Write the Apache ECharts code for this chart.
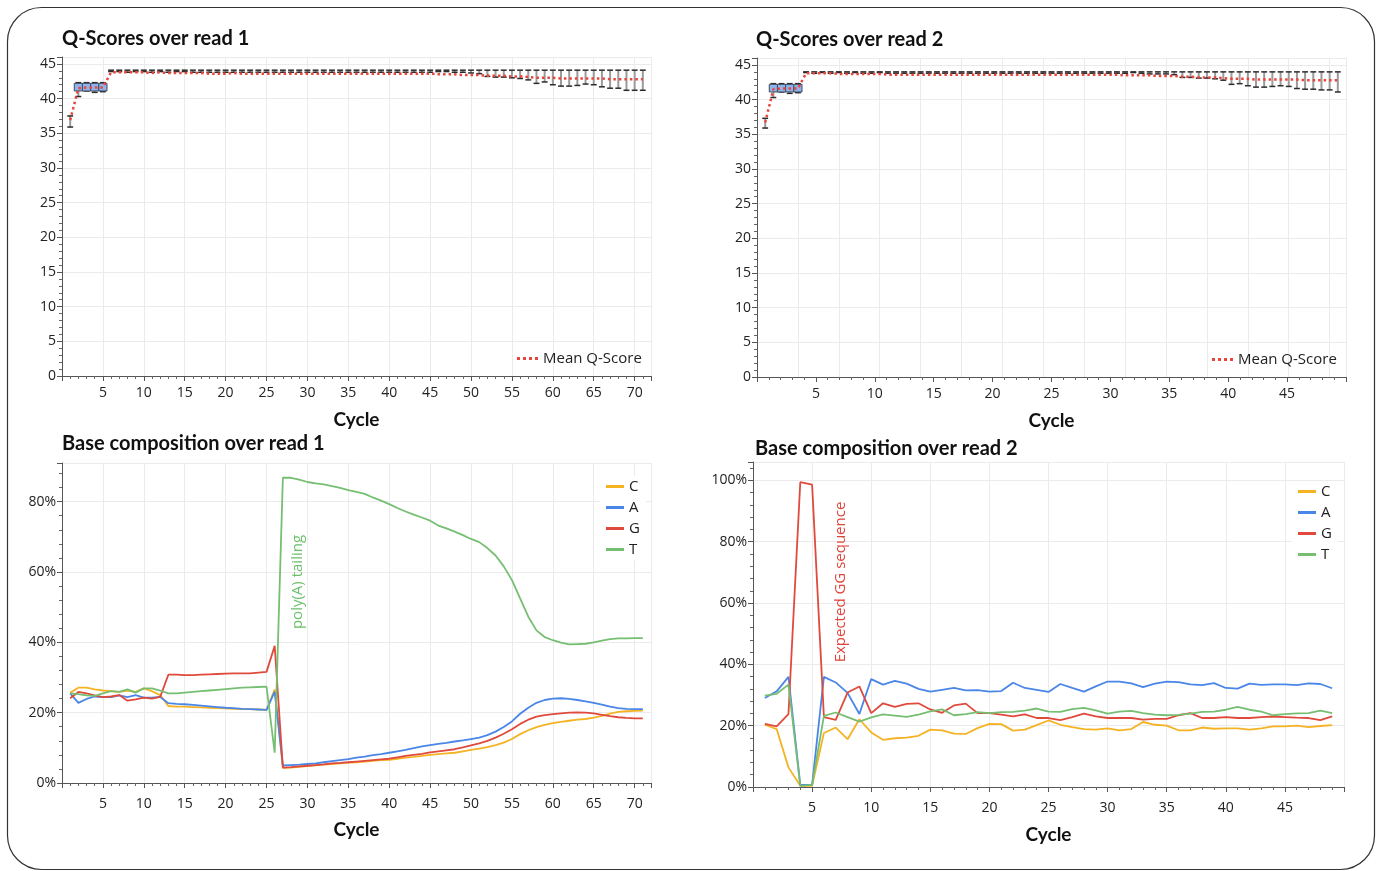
<!DOCTYPE html>
<html><head><meta charset="utf-8">
<script src="https://cdn.jsdelivr.net/npm/echarts@6/dist/echarts.min.js"></script>
<style>html,body{margin:0;padding:0;background:#fff;}#c{width:1383px;height:871px;}</style>
</head><body><div id="c"></div>
<script>
// ---------- DATA ----------
const cycles71 = [1,2,3,4,5,6,7,8,9,10,11,12,13,14,15,16,17,18,19,20,21,22,23,24,25,26,27,28,29,30,31,32,33,34,35,36,37,38,39,40,41,42,43,44,45,46,47,48,49,50,51,52,53,54,55,56,57,58,59,60,61,62,63,64,65,66,67,68,69,70,71];
const cycles49 = [1,2,3,4,5,6,7,8,9,10,11,12,13,14,15,16,17,18,19,20,21,22,23,24,25,26,27,28,29,30,31,32,33,34,35,36,37,38,39,40,41,42,43,44,45,46,47,48,49];

// Q-scores read 1
const q1Mean = [36.9,41.5,41.6,41.6,41.6,43.8,43.8,43.8,43.8,43.8,
43.7,43.8,43.7,43.7,43.7,43.7,43.7,43.6,43.6,43.6,
43.7,43.6,43.6,43.6,43.6,43.6,43.6,43.6,43.6,43.6,
43.6,43.6,43.6,43.6,43.6,43.6,43.6,43.6,43.6,43.6,
43.6,43.6,43.6,43.6,43.6,43.5,43.5,43.5,43.4,43.4,
43.4,43.3,43.3,43.3,43.2,43.2,43.1,43.0,43.0,43.0,
42.9,42.9,42.9,42.9,42.9,42.9,42.8,42.8,42.8,42.8,42.8];
const q1Low = [35.9,40.3,41.1,40.9,41.0,43.9,43.9,43.8,43.9,43.9,
43.8,43.9,43.8,43.9,43.9,43.8,43.8,43.8,43.8,43.8,
43.8,43.8,43.8,43.8,43.8,43.8,43.8,43.8,43.8,43.8,
43.8,43.8,43.8,43.8,43.8,43.8,43.8,43.8,43.8,43.8,
43.8,43.8,43.8,43.8,43.8,43.9,43.9,43.8,43.8,43.7,
43.6,43.2,43.1,43.1,43.0,42.9,42.7,42.2,42.4,42.0,
41.8,41.8,41.9,42.1,42.0,41.7,41.5,41.5,41.2,41.2,41.2];
const q1High = [37.5,42.3,42.3,42.3,42.3,44.1,44.1,44.1,44.1,44.1,
44.1,44.1,44.1,44.1,44.1,44.1,44.1,44.1,44.1,44.1,
44.1,44.1,44.1,44.1,44.1,44.1,44.1,44.1,44.1,44.1,
44.1,44.1,44.1,44.1,44.1,44.1,44.1,44.1,44.1,44.1,
44.1,44.1,44.1,44.1,44.1,44.1,44.1,44.1,44.1,44.1,
44.1,44.1,44.1,44.1,44.1,44.1,44.1,44.1,44.1,44.1,
44.1,44.1,44.1,44.1,44.1,44.1,44.1,44.1,44.1,44.1,44.1];
const box1Cycles = [2,3,4,5];
const box1Low = [41.1,41.1,41.1,41.1];
const box1High = [42.2,42.2,42.2,42.2];

// Q-scores read 2
const q2Mean = [36.7,41.5,41.6,41.6,41.6,43.8,43.8,43.8,43.8,43.7,
43.7,43.7,43.7,43.7,43.7,43.6,43.6,43.6,43.6,43.6,
43.6,43.6,43.6,43.6,43.6,43.6,43.6,43.6,43.6,43.6,
43.6,43.6,43.6,43.6,43.6,43.6,43.6,43.6,43.6,43.6,
43.6,43.6,43.6,43.6,43.5,43.5,43.5,43.5,43.4,43.4,
43.4,43.3,43.3,43.2,43.2,43.2,43.1,43.0,43.0,43.0,
42.9,42.9,42.9,42.9,42.9,42.9,42.8,42.8,42.8,42.8,42.8];
const q2Low = [35.9,40.3,41.1,40.9,41.0,43.9,43.8,43.9,43.8,43.9,
43.8,43.9,43.8,43.8,43.9,43.8,43.8,43.8,43.8,43.8,
43.8,43.8,43.8,43.8,43.8,43.8,43.8,43.8,43.8,43.8,
43.8,43.8,43.8,43.8,43.8,43.8,43.8,43.8,43.8,43.8,
43.8,43.8,43.8,43.8,43.8,43.9,43.8,43.7,43.7,43.7,
43.6,43.2,43.2,43.1,43.1,43.0,42.8,42.2,42.3,42.0,
41.8,41.8,41.9,42.0,41.9,41.6,41.5,41.5,41.4,41.4,41.1];
const q2High = [37.3,42.3,42.3,42.3,42.3,44.0,44.0,44.0,44.0,44.0,
44.0,44.0,44.0,44.0,44.0,44.0,44.0,44.0,44.0,44.0,
44.0,44.0,44.0,44.0,44.0,44.0,44.0,44.0,44.0,44.0,
44.0,44.0,44.0,44.0,44.0,44.0,44.0,44.0,44.0,44.0,
44.0,44.0,44.0,44.0,44.0,44.0,44.0,44.0,44.0,44.0,
44.0,44.0,44.0,44.0,44.0,44.0,44.0,44.0,44.0,44.0,
44.0,44.0,44.0,44.0,44.0,44.0,44.0,44.0,44.0,44.0,44.0];
const box2Cycles = [2,3,4,5];
const box2Low = [41.1,41.1,41.1,41.1];
const box2High = [42.2,42.2,42.2,42.2];

// Base composition read 1 (%)
const r1C = [25.7,27.1,27.1,26.6,26.3,26.1,25.9,26.3,25.9,26.9,
26.1,25.0,21.9,21.7,21.7,21.6,21.5,21.4,21.3,21.2,
21.1,21.0,21.0,20.9,20.8,26.6,4.3,4.4,4.6,4.8,
5.0,5.2,5.4,5.6,5.8,5.9,6.1,6.3,6.5,6.6,
6.9,7.2,7.4,7.7,8.0,8.2,8.4,8.6,9.0,9.4,
9.8,10.2,10.8,11.5,12.5,13.9,15.0,15.9,16.5,17.0,
17.4,17.7,18.0,18.2,18.6,19.1,19.7,20.2,20.4,20.5,20.6];
const r1A = [25.5,22.8,23.9,24.6,24.4,24.4,24.9,24.4,25.0,24.3,
24.3,24.5,22.7,22.5,22.4,22.2,22.0,21.8,21.6,21.4,
21.3,21.1,21.0,20.9,20.8,26.0,5.0,5.1,5.2,5.4,
5.6,5.9,6.2,6.5,6.8,7.2,7.5,7.9,8.2,8.6,
9.0,9.4,9.9,10.4,10.8,11.1,11.4,11.8,12.1,12.5,
12.9,13.6,14.6,15.9,17.5,19.7,21.4,22.8,23.6,24.0,
24.1,23.9,23.6,23.2,22.8,22.3,21.7,21.3,21.1,21.0,21.0];
const r1G = [24.1,25.9,25.5,24.9,24.4,24.6,25.0,23.4,23.8,24.3,
24.0,24.5,30.8,30.8,30.7,30.7,30.8,30.9,31.0,31.1,
31.2,31.2,31.2,31.4,31.6,39.0,4.4,4.5,4.7,4.9,
5.1,5.3,5.6,5.7,5.9,6.1,6.3,6.5,6.7,6.9,
7.3,7.7,8.0,8.3,8.7,9.0,9.3,9.6,10.1,10.7,
11.3,12.0,12.9,14.0,15.3,16.8,18.0,18.9,19.3,19.6,
19.8,20.0,20.1,20.0,19.8,19.4,19.0,18.7,18.5,18.4,18.4];
const r1T = [25.5,25.3,24.9,24.8,25.5,26.1,25.9,26.6,25.7,26.9,
26.9,26.3,25.5,25.5,25.7,25.9,26.1,26.3,26.5,26.7,
26.9,27.1,27.2,27.3,27.4,8.6,86.8,86.8,86.3,85.6,
85.2,84.9,84.4,83.9,83.3,82.8,82.2,81.2,80.3,79.3,
78.2,77.2,76.3,75.5,74.6,73.2,72.4,71.5,70.5,69.4,
68.5,66.8,64.7,61.6,57.7,52.5,47.3,43.4,41.5,40.6,
39.9,39.4,39.5,39.6,40.0,40.5,40.9,41.1,41.1,41.2,41.2];

// Base composition read 2 (%)
const r2C = [20.3,18.9,6.4,0.4,0.4,17.6,19.4,15.6,22.1,17.8,
15.4,15.9,16.1,16.7,18.7,18.5,17.4,17.3,19.2,20.6,
20.5,18.4,18.7,20.2,21.7,20.3,19.5,18.9,18.7,19.1,
18.5,18.9,21.2,20.3,20.0,18.5,18.5,19.4,19.0,19.1,
19.1,18.7,19.1,19.8,19.8,20.0,19.5,19.9,20.2];
const r2A = [29.0,31.2,35.9,0.7,0.7,35.9,34.1,30.7,23.8,35.2,
33.4,34.6,33.7,32.0,31.1,31.7,32.3,31.5,31.6,31.1,
31.3,34.0,32.3,31.7,31.0,33.6,32.3,31.1,32.8,34.4,
34.4,33.8,32.6,33.7,34.4,34.2,33.5,33.2,33.9,32.3,
32.1,33.7,33.3,33.5,33.5,33.2,33.8,33.6,32.2];
const r2G = [20.6,19.8,23.8,99.4,98.6,22.8,21.9,30.8,32.8,24.1,
27.3,26.1,27.1,27.3,25.3,24.2,26.6,27.2,24.1,24.1,
23.6,23.0,23.7,22.5,22.5,21.8,22.8,23.9,23.0,22.5,
22.5,22.5,22.0,22.2,22.2,23.4,24.1,22.5,22.5,22.8,
22.5,22.5,22.8,23.0,22.8,22.6,22.5,21.8,23.0];
const r2T = [29.8,30.4,33.4,0.4,0.7,23.2,24.3,22.8,21.3,22.7,
23.7,23.3,22.9,23.6,24.7,25.3,23.4,23.8,24.4,24.1,
24.4,24.5,24.9,25.6,24.6,24.5,25.4,25.8,25.0,23.9,
24.6,24.8,24.1,23.6,23.4,23.5,23.9,24.5,24.6,25.2,
26.1,25.2,24.6,23.4,23.8,24.0,24.1,24.9,24.1];

const titles = ['Q-Scores over read 1','Q-Scores over read 2','Base composition over read 1','Base composition over read 2'];
const baseNames = ['C','A','G','T'];

// ---------- CHART ----------
const chart = echarts.init(document.getElementById('c'), null, {renderer:'canvas'});
const FONT = '"Open Sans", "Noto Sans", sans-serif';
const TFONT = 'Lato, "Open Sans", sans-serif';
const COL = {C:'#f5b324', A:'#4a86e8', G:'#df4a3c', T:'#76bf72'};
const MEANCOL = '#e8453c';

function pairs(xs, ys){ return xs.map((x,i)=>[x, ys[i]]); }
function triples(xs, a, b){ return xs.map((x,i)=>[x, a[i], b[i]]); }

function xAxisDef(gridIndex, max, visible, split, nameGap, labelMargin){
  return {type:'value', gridIndex, min:0, max, interval:5, position:'bottom',
    name: visible ? 'Cycle' : '', nameLocation:'middle', nameGap:nameGap,
    nameTextStyle:{fontFamily:TFONT, fontWeight:'bold', fontSize:19, color:'#111'},
    axisLine:{show:visible, onZero:false, lineStyle:{color:'#555'}},
    axisTick:{show:visible, length:5, lineStyle:{color:'#555'}},
    minorTick:{show:visible, splitNumber:5, length:3, lineStyle:{color:'#666'}},
    axisLabel:{show:visible, margin:labelMargin, color:'#222', fontSize:14, fontFamily:FONT, showMinLabel:false, showMaxLabel:false},
    splitLine:{show:split, lineStyle:{color:'#ebebeb', width:1}},
    minorSplitLine:{show:false}
  };
}
function yAxisDef(gridIndex, max, interval, pct){
  return {type:'value', gridIndex, min:0, max, interval,
    axisLine:{show:true, onZero:false, lineStyle:{color:'#555'}},
    axisTick:{show:true, length:5, lineStyle:{color:'#555'}},
    minorTick:{show:true, splitNumber:5, length:3, lineStyle:{color:'#666'}},
    axisLabel:{margin:6, color:'#222', fontSize:14, fontFamily:FONT, showMaxLabel:false, formatter: pct ? '{value}%' : '{value}'},
    splitLine:{show:true, lineStyle:{color:'#ebebeb', width:1}}
  };
}

function renderWhisker(params, api){
  const c = api.value(0), lo = api.value(1), hi = api.value(2);
  const pl = api.coord([c, lo]), ph = api.coord([c, hi]);
  const w = api.size([1, 0])[0];
  const cw = Math.max(4, w * 0.72);
  return {type:'group', children:[
    {type:'line', shape:{x1:pl[0], y1:pl[1], x2:ph[0], y2:ph[1]}, style:{stroke:'#9b9b9b', lineWidth:2}},
    {type:'line', shape:{x1:pl[0]-cw/2, y1:pl[1], x2:pl[0]+cw/2, y2:pl[1]}, style:{stroke:'#2b2b2b', lineWidth:1.5}},
    {type:'line', shape:{x1:ph[0]-cw/2, y1:ph[1], x2:ph[0]+cw/2, y2:ph[1]}, style:{stroke:'#2b2b2b', lineWidth:1.5}}
  ]};
}
function renderBox(params, api){
  const c = api.value(0), lo = api.value(1), hi = api.value(2);
  const pl = api.coord([c, lo]), ph = api.coord([c, hi]);
  const w = api.size([1, 0])[0];
  return {type:'rect', shape:{x:pl[0]-w/2, y:ph[1], width:w, height:pl[1]-ph[1]},
    style:{fill:'#8fb4ec', stroke:'#3f4b5e', lineWidth:1}};
}

function qSeries(xi, yi, low, high, mean, bc, bl, bh){
  return [
    {type:'custom', xAxisIndex:xi, yAxisIndex:yi, renderItem:renderWhisker,
      encode:{x:0, y:[1,2]}, data:triples(cycles71, low, high), z:2, silent:true},
    {type:'custom', xAxisIndex:xi, yAxisIndex:yi, renderItem:renderBox,
      encode:{x:0, y:[1,2]}, data:triples(bc, bl, bh), z:3, silent:true},
    {type:'line', name:'Mean Q-Score', xAxisIndex:xi, yAxisIndex:yi, data:pairs(cycles71, mean),
      symbol:'none', z:5, lineStyle:{color:MEANCOL, width:2.5, type:[2.5, 3]}, itemStyle:{color:MEANCOL}}
  ];
}
function baseSeries(xi, yi, xs, arrs){
  return baseNames.map((n, k) => ({type:'line', name:n, xAxisIndex:xi, yAxisIndex:yi,
    data:pairs(xs, arrs[k]), symbol:'none', z:4,
    lineStyle:{color:COL[n], width:1.8}, itemStyle:{color:COL[n]}}));
}

const titleStyle = {fontFamily:TFONT, fontWeight:'bold', fontSize:20, color:'#111'};
const legendText = {fontFamily:FONT, fontSize:15, color:'#222', lineHeight:14};
const DOTS = 'path://M0,0h3v3h-3z M6,0h3v3h-3z M12,0h3v3h-3z M18,0h3v3h-3z';
const baseLegendData = baseNames.map(n => ({name:n, icon:'rect', itemStyle:{color:COL[n], borderWidth:0}}));

const option = {
  animation:false,
  backgroundColor:'#fff',
  title:[
    {text:titles[0], left:62, top:29, padding:0, textStyle:titleStyle},
    {text:titles[1], left:756, top:30, padding:0, textStyle:titleStyle},
    {text:titles[2], left:62, top:434, padding:0, textStyle:titleStyle},
    {text:titles[3], left:755, top:439, padding:0, textStyle:titleStyle}
  ],
  grid:[
    {left:62, top:57, width:589, height:319, containLabel:false},
    {left:757, top:58, width:589, height:319, containLabel:false},
    {left:62, top:463, width:589, height:320, containLabel:false},
    {left:753, top:462, width:591, height:325, containLabel:false}
  ],
  xAxis:[
    xAxisDef(0, 72, true, true, 34, 10),
    xAxisDef(1, 50, true, false, 34, 10),
    xAxisDef(1, 72, false, true, 34, 10),
    xAxisDef(2, 72, true, true, 37, 14),
    xAxisDef(3, 50, true, true, 38, 14)
  ],
  yAxis:[
    yAxisDef(0, 46, 5, false),
    yAxisDef(1, 46, 5, false),
    yAxisDef(2, 91, 20, true),
    yAxisDef(3, 106, 20, true)
  ],
  legend:[
    {data:[{name:'Mean Q-Score', icon:DOTS, itemStyle:{color:MEANCOL, borderWidth:0}}], left:517, top:351, padding:0, itemWidth:21, itemHeight:3, textStyle:legendText},
    {data:[{name:'Mean Q-Score', icon:DOTS, itemStyle:{color:MEANCOL, borderWidth:0}}], left:1212, top:352, padding:0, itemWidth:21, itemHeight:3, textStyle:legendText},
    {data:baseLegendData, orient:'vertical', left:600, top:476, padding:[3,6], itemGap:6, itemWidth:18, itemHeight:3,
      backgroundColor:'#fff', textStyle:legendText},
    {data:baseLegendData, orient:'vertical', left:1292, top:481, padding:[3,6], itemGap:6, itemWidth:18, itemHeight:3,
      backgroundColor:'#fff', textStyle:legendText}
  ],
  series:[].concat(
    qSeries(0, 0, q1Low, q1High, q1Mean, box1Cycles, box1Low, box1High),
    qSeries(2, 1, q2Low, q2High, q2Mean, box2Cycles, box2Low, box2High),
    baseSeries(3, 2, cycles71, [r1C, r1A, r1G, r1T]),
    baseSeries(4, 3, cycles49, [r2C, r2A, r2G, r2T])
  ),
  graphic:[
    {type:'rect', shape:{x:7.5, y:7.5, width:1367, height:862, r:34}, style:{fill:'none', stroke:'#333', lineWidth:1.2}, z:-10, silent:true},
    {type:'text', x:298, y:582, rotation:Math.PI/2, z:20, silent:true,
      style:{text:'poly(A) tailing', fill:'#6bbf6b', font:'15px "Open Sans", sans-serif', align:'center', verticalAlign:'middle', textAlign:'center', textVerticalAlign:'middle'}},
    {type:'text', x:841, y:582, rotation:Math.PI/2, z:20, silent:true,
      style:{text:'Expected GG sequence', fill:'#e0443a', font:'15px "Open Sans", sans-serif', align:'center', verticalAlign:'middle', textAlign:'center', textVerticalAlign:'middle'}}
  ]
};
chart.setOption(option);
</script>
</body></html>
